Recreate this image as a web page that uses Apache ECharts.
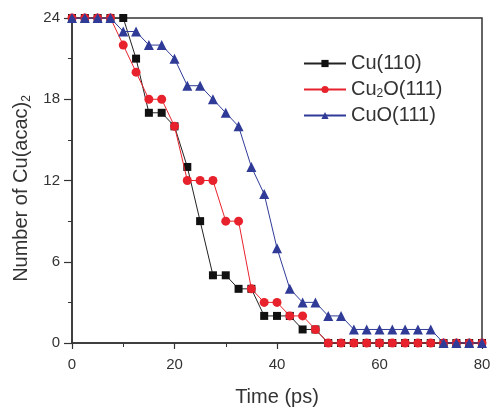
<!DOCTYPE html>
<html>
<head>
<meta charset="utf-8">
<script src="https://cdn.jsdelivr.net/npm/echarts@6/dist/echarts.min.js"></script>
<style>
html,body{margin:0;padding:0;background:#fff;}
#c{width:490px;height:408px;}
</style>
</head>
<body>
<div id="c"></div>
<script>
var times = [0,2.5,5,7.5,10,12.5,15,17.5,20,22.5,25,27.5,30,32.5,35,37.5,40,42.5,45,47.5,50,52.5,55,57.5,60,62.5,65,67.5,70,72.5,75,77.5,80];
var cu110 = [24,24,24,24,24,21,17,17,16,13,9,5,5,4,4,2,2,2,1,1,0,0,0,0,0,0,0,0,0,0,0,0,0];
var cu2o111 = [24,24,24,24,22,20,18,18,16,12,12,12,9,9,4,3,3,2,2,1,0,0,0,0,0,0,0,0,0,0,0,0,0];
var cuo111 = [24,24,24,24,23,23,22,22,21,19,19,18,17,16,13,11,7,4,3,3,2,2,1,1,1,1,1,1,1,0,0,0,0];
var xTicks = [0,20,40,60,80];
var yTicks = [0,6,12,18,24];
var seriesNames = ['Cu(110)','Cu2O(111)','CuO(111)'];

function pairs(v){ return times.map(function(t,i){ return [t, v[i]]; }); }

var chart = echarts.init(document.getElementById('c'), null, {renderer:'canvas'});
var fam = '"Liberation Sans", Arial, sans-serif';
chart.setOption({
  animation:false,
  backgroundColor:'#fff',
  grid:{left:72,right:8,top:18,bottom:65,containLabel:false,outerBoundsMode:'none',show:true,borderColor:'#333',borderWidth:1.5,backgroundColor:'transparent'},
  legend:{
    orient:'vertical', left:298, top:48,
    itemWidth:42, itemHeight:9, itemGap:5,
    data:seriesNames,
    textStyle:{fontFamily:fam,fontSize:20,color:'#333',lineHeight:21,
      rich:{a:{fontFamily:fam,fontSize:20,color:'#333'},s:{fontFamily:fam,fontSize:12,color:'#333',verticalAlign:'bottom',padding:[10,0,0,0]}}},
    formatter:function(n){ if(n==='Cu2O(111)') return '{a|Cu}{s|2}{a|O(111)}'; return '{a|'+n+'}'; }
  },
  xAxis:{
    type:'value', min:xTicks[0], max:xTicks[xTicks.length-1], interval:20,
    name:'Time (ps)', nameLocation:'middle', nameGap:44,
    nameTextStyle:{fontFamily:fam,fontSize:20,color:'#333'},
    axisLine:{show:true,onZero:false,lineStyle:{color:'#333',width:1.5}},
    axisTick:{show:true,inside:false,length:6,lineStyle:{color:'#333',width:1.2}},
    minorTick:{show:true,splitNumber:2,length:4,lineStyle:{color:'#333',width:1}},
    axisLabel:{fontFamily:fam,fontSize:15,color:'#333',margin:14},
    splitLine:{show:false}
  },
  yAxis:{
    type:'value', min:yTicks[0], max:yTicks[yTicks.length-1], interval:6,
    name:'{a|Number of Cu(acac)}{s|2}', nameLocation:'middle', nameGap:38, nameRotate:90,
    nameTextStyle:{fontFamily:fam,fontSize:20,color:'#333',padding:[0,16,0,0],
      rich:{a:{fontFamily:fam,fontSize:20,color:'#333'},s:{fontFamily:fam,fontSize:12,color:'#333',verticalAlign:'bottom',padding:[10,0,0,0]}}},
    axisLine:{show:true,onZero:false,lineStyle:{color:'#333',width:1.5}},
    axisTick:{show:true,inside:false,length:8,lineStyle:{color:'#333',width:1.2}},
    minorTick:{show:true,splitNumber:2,length:4,lineStyle:{color:'#333',width:1}},
    axisLabel:{fontFamily:fam,fontSize:15,color:'#333',margin:12},
    splitLine:{show:false}
  },
  series:[
    {name:seriesNames[0],type:'line',data:pairs(cu110),symbol:'rect',symbolSize:8,
     itemStyle:{color:'#111'},lineStyle:{color:'#222',width:1},z:2},
    {name:seriesNames[1],type:'line',data:pairs(cu2o111),symbol:'circle',symbolSize:9,
     itemStyle:{color:'#e8222c'},lineStyle:{color:'#e8222c',width:1},z:3},
    {name:seriesNames[2],type:'line',data:pairs(cuo111),symbol:'triangle',symbolSize:10,
     itemStyle:{color:'#2f3b97'},lineStyle:{color:'#2f3b97',width:1},z:4}
  ]
});
</script>
</body>
</html>
